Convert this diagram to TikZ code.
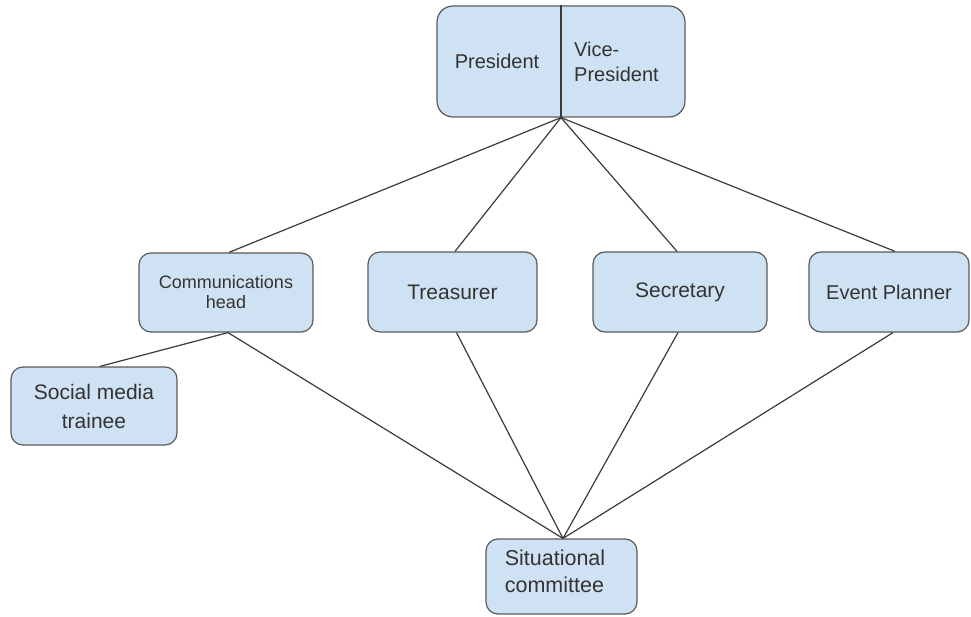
\documentclass[tikz,border=0pt]{standalone}
\usepackage{fontspec}
\setmainfont{Liberation Sans}
\begin{document}
\begin{tikzpicture}[x=1pt,y=-1pt,
  orgbox/.style={draw=boxborder, fill=boxfill, rounded corners=12pt, line width=1.2pt, inner sep=0pt, align=center, text=txtcol},
  lbl/.style={inner sep=0pt, text=txtcol},
  conn/.style={draw=linecol, line width=1.2pt}]
\definecolor{boxfill}{HTML}{CFE2F3}
\definecolor{boxborder}{HTML}{5A5A5A}
\definecolor{linecol}{HTML}{3A3A3A}
\definecolor{txtcol}{HTML}{333333}
\useasboundingbox (0,0) rectangle (971,617);
% top box
\node[orgbox, rounded corners=16pt, minimum width=248pt, minimum height=111pt] (top) at (561,61.5) {};
\draw[draw=linecol, line width=1.2pt] (top.north) -- (top.south);
\node[lbl, font=\fontsize{20}{25}\selectfont] (pres) at (497,61) {President};
\node[lbl, font=\fontsize{20}{25}\selectfont, align=left, anchor=west] (vp) at (574,62) {Vice-\\President};
% middle row
\node[orgbox, minimum width=174pt, minimum height=79pt, font=\fontsize{18}{20}\selectfont] (comm) at (226,292.5) {Communications\\head};
\node[orgbox, minimum width=169pt, minimum height=80pt, font=\fontsize{21}{27}\selectfont] (treas) at (452.5,292) {Treasurer};
\node[orgbox, minimum width=174pt, minimum height=80pt, font=\fontsize{21}{27}\selectfont] (sec) at (680,292) {Secretary};
\node[orgbox, minimum width=160pt, minimum height=80pt, font=\fontsize{20}{27}\selectfont] (event) at (889,292) {Event Planner};
% lower
\node[orgbox, minimum width=166pt, minimum height=78pt, font=\fontsize{21}{29}\selectfont] (social) at (94,406) {Social media\\trainee};
\node[orgbox, minimum width=151pt, minimum height=75pt] (situ) at (561.5,576.5) {};
\node[lbl, font=\fontsize{21.5}{27}\selectfont, align=left] (situtext) at (555,571.5) {Situational\\committee};
% connectors
\draw[conn] (top.south) -- ([xshift=3pt]comm.north);
\draw[conn] (top.south) -- ([xshift=2.5pt]treas.north);
\draw[conn] (top.south) -- ([xshift=-3pt]sec.north);
\draw[conn] (top.south) -- ([xshift=6pt]event.north);
\draw[conn] ([xshift=2pt]comm.south) -- ([xshift=6pt]social.north);
\draw[conn] ([xshift=2pt]comm.south) -- ([xshift=1.5pt]situ.north);
\draw[conn] ([xshift=4pt]treas.south) -- ([xshift=1.5pt]situ.north);
\draw[conn] ([xshift=-2pt]sec.south) -- ([xshift=1.5pt]situ.north);
\draw[conn] ([xshift=4pt]event.south) -- ([xshift=1.5pt]situ.north);
\end{tikzpicture}
\end{document}
